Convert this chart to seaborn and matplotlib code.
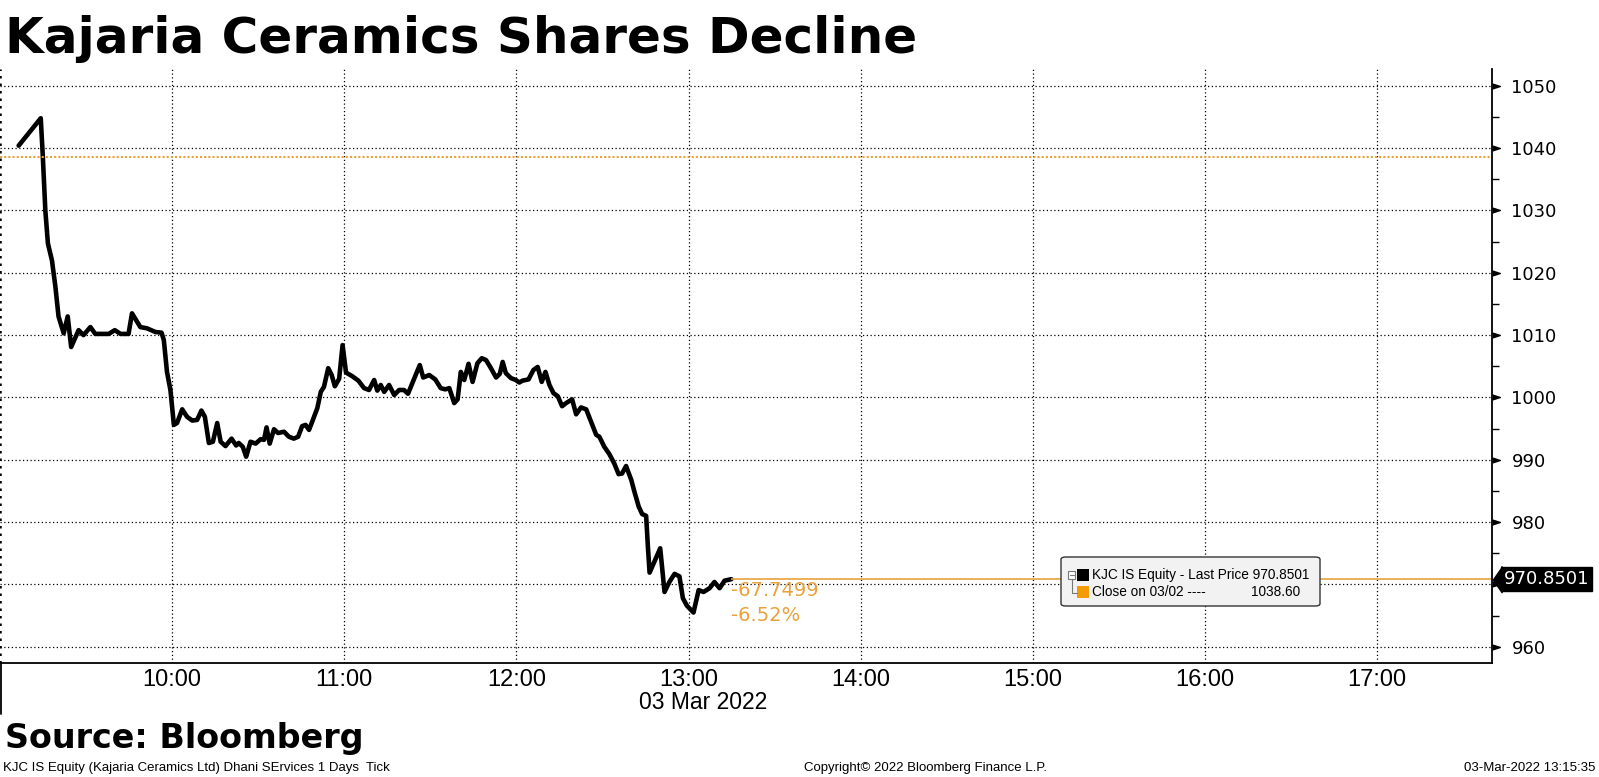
import numpy as np
import pandas as pd
import seaborn as sns
import matplotlib.pyplot as plt
import matplotlib.dates as mdates
import matplotlib.ticker as mticker
from matplotlib.lines import Line2D
from matplotlib.patches import FancyBboxPatch, Rectangle
from matplotlib.transforms import offset_copy

# minutes after 09:00 on 03 Mar 2022
minutes = [6.5, 14.2, 14.9, 15.8, 16.7, 18.1, 19.3, 20.4, 22.2, 23.6, 24.8, 27.4, 29.1,
           31.5, 33.2, 37.9, 40.0, 42.0, 44.8, 46.0, 48.9, 51.2, 54.2, 56.3, 57.1, 58.2,
           59.4, 60.6, 61.7, 63.5, 65.2, 67.0, 68.7, 70.2, 71.4, 72.8, 74.2, 75.7, 76.9,
           78.6, 80.7, 82.3, 83.2, 84.6, 85.8, 87.3, 89.1, 90.8, 92.0, 92.9, 94.0, 95.5,
           96.9, 99.0, 100.7, 102.4, 103.9, 105.3, 106.5, 107.7, 108.8, 110.6, 111.8,
           112.9, 114.4, 115.6, 116.7, 118.2, 119.4, 120.6, 122.8, 124.9, 126.9, 128.6,
           130.4, 131.5, 132.7, 133.9, 135.6, 137.4, 139.1, 140.8, 142.2, 143.7, 146.3,
           147.5, 149.6, 151.7, 153.6, 155.2, 156.6, 158.3, 159.5, 160.6, 161.8, 163.3,
           164.7, 166.4, 167.9, 169.4, 171.1, 172.9, 174.2, 175.2, 176.3, 178.1, 179.8,
           181.0, 182.1, 184.2, 185.9, 187.4, 188.8, 190.1, 191.5, 192.9, 194.4, 195.9,
           197.3, 199.4, 200.8, 202.5, 204.3, 206.0, 207.8, 208.9, 210.6, 212.4, 214.1,
           215.6, 216.8, 218.2, 220.0, 221.1, 222.6, 223.8, 225.2, 225.8, 226.4, 228.1,
           230.1, 231.6, 233.3, 235.1, 236.8, 238.0, 239.4, 241.7, 242.7, 243.5, 245.2,
           247.3, 249.0, 250.8, 252.5, 254.9]
price = [1040.4, 1044.8, 1038.9, 1030.0, 1024.7, 1022.0, 1017.8, 1013.0, 1010.3, 1013.0,
         1008.1, 1010.8, 1010.0, 1011.3, 1010.2, 1010.2, 1010.8, 1010.2, 1010.2, 1013.5,
         1011.3, 1011.1, 1010.5, 1010.4, 1009.2, 1004.1, 1001.2, 995.6, 995.9, 998.1,
         996.9, 996.3, 996.4, 997.9, 996.9, 992.7, 992.9, 995.9, 992.9, 992.2, 993.4,
         992.3, 992.7, 992.1, 990.5, 992.9, 992.6, 993.3, 993.2, 995.2, 992.6, 994.9,
         994.3, 994.5, 993.7, 993.4, 993.7, 995.4, 995.6, 994.8, 996.1, 998.3, 1000.9,
         1001.7, 1004.7, 1003.6, 1001.8, 1003.0, 1008.4, 1004.0, 1003.4, 1002.7, 1001.5,
         1001.2, 1002.8, 1001.1, 1002.0, 1000.9, 1002.0, 1000.4, 1001.2, 1001.2, 1000.6,
         1002.3, 1005.2, 1003.2, 1003.6, 1002.9, 1001.5, 1001.3, 1001.5, 999.1, 999.7,
         1004.1, 1002.8, 1005.4, 1002.5, 1005.5, 1006.3, 1006.0, 1004.7, 1003.2, 1003.8,
         1005.7, 1003.9, 1003.1, 1002.8, 1002.4, 1002.7, 1002.9, 1004.4, 1004.9, 1002.5,
         1004.1, 1002.0, 1000.7, 1000.2, 998.6, 999.1, 999.7, 997.3, 998.4, 998.1, 996.1,
         994.0, 993.7, 992.1, 990.9, 989.4, 987.7, 987.8, 989.0, 986.8, 984.9, 982.5,
         981.3, 981.0, 976.1, 971.9, 973.7, 975.8, 968.8, 970.4, 971.7, 971.3, 967.8,
         966.6, 965.5, 967.5, 969.1, 968.8, 969.4, 970.4, 969.4, 970.6, 970.8501]

prev_close = 1038.60
last_price = 970.8501
change = -67.7499
change_pct = -6.52
y_ticks = [960, 970, 980, 990, 1000, 1010, 1020, 1030, 1040, 1050]
hour_ticks = list(range(10, 18))

day = pd.Timestamp("2022-03-03 09:00")
df = pd.DataFrame({"time": day + pd.to_timedelta(minutes, unit="min"), "price": price})

sns.set_style("white")
plt.rcParams["font.family"] = ["DejaVu Sans"]
for key in ["text.color", "axes.labelcolor", "xtick.color", "ytick.color"]:
    plt.rcParams[key] = "black"
narrow = ["Liberation Sans Narrow", "Liberation Sans", "DejaVu Sans"]
orange = "#E9A23B"

W, H = 1599, 777
fx = lambda px: px / W
fy = lambda py: 1 - py / H

fig = plt.figure(figsize=(W / 100, H / 100), dpi=100)
ax = fig.add_axes([0, fy(663), fx(1492), fy(69) - fy(663)])

sns.lineplot(data=df, x="time", y="price", color="black", lw=3.3, ax=ax)
plt.setp(ax.lines, solid_joinstyle="round", solid_capstyle="round")

ax.set_xlim(day, day + pd.Timedelta(minutes=520))
ax.set_ylim(957.4, 1052.7)
ax.set_xlabel("")
ax.set_ylabel("")

# grid
dot = (0, (1, 2))
ax.xaxis.set_major_locator(mdates.HourLocator(byhour=hour_ticks))
ax.xaxis.set_minor_locator(mdates.MinuteLocator(byminute=[30]))
ax.xaxis.set_major_formatter(mdates.DateFormatter("%H:%M"))
ax.grid(True, which="major", color="black", linestyle=dot, lw=0.9)
ax.axvline(day, color="black", linestyle=dot, lw=1.8)

ax.yaxis.tick_right()
ax.set_yticks(y_ticks, labels=["" if t == 970 else str(t) for t in y_ticks])
ax.yaxis.set_minor_locator(mticker.MultipleLocator(5))
ax.tick_params(axis="y", which="major", length=0, pad=14, labelsize=13)
ax.tick_params(axis="y", which="minor", length=5, width=1, direction="out")
ax.tick_params(axis="x", which="both", direction="in", length=5, width=1, pad=4,
               labelsize=17)
for lab in ax.get_xticklabels():
    lab.set_family(narrow)

for side in ["top", "left"]:
    ax.spines[side].set_visible(False)
for side in ["bottom", "right"]:
    ax.spines[side].set_color("black")
    ax.spines[side].set_linewidth(1.3)

# triangle tick marks on the right axis
tri = offset_copy(ax.get_yaxis_transform(), fig=fig, x=2.7, units="points")
ax.plot([1] * len(y_ticks), y_ticks, ls="none", marker=[(-0.5, -0.32), (0.5, 0), (-0.5, 0.32)],
        ms=5.5, color="black", transform=tri, clip_on=False)

# previous close and last price lines
ax.axhline(prev_close, color=orange, linestyle=(0, (1, 1)), lw=1.5)
last_time = df["time"].iloc[-1]
ax.hlines(last_price, last_time, ax.get_xlim()[1], color=orange, lw=1.2)

ax.annotate(f"{change:.4f}", xy=(last_time, last_price), xytext=(0, -8.5),
            textcoords="offset points", color=orange, fontsize=14, va="center", ha="left")
ax.annotate(f"{change_pct:.2f}%", xy=(last_time, last_price), xytext=(0, -26.5),
            textcoords="offset points", color=orange, fontsize=14, va="center", ha="left")

# last price tag on the axis
tag = offset_copy(ax.get_yaxis_transform(), fig=fig, x=3.6, units="points")
ax.plot([1], [last_price], ls="none", marker=[(-0.35, 0), (0.35, -1), (0.35, 1)], ms=19,
        color="black", transform=tag, clip_on=False)
ax.annotate(f"{last_price:.4f}", xy=(1, last_price), xycoords=ax.get_yaxis_transform(),
            xytext=(8.6, 0), textcoords="offset points", color="white", fontsize=13,
            va="center", ha="left", annotation_clip=False,
            bbox=dict(boxstyle="square,pad=0.15", fc="black", ec="black"))

ax.text(day + pd.Timedelta(minutes=245), -0.067, "03 Mar 2022", transform=ax.get_xaxis_transform(),
        ha="center", va="center", fontsize=16.5, family=narrow)

# legend panel
fig.add_artist(FancyBboxPatch((fx(1061), fy(606)), fx(1320) - fx(1061), fy(557) - fy(606),
                              boxstyle="round,pad=0,rounding_size=0.003", transform=fig.transFigure,
                              fc="#f2f2f2", ec="#333333", lw=1))
fig.add_artist(Rectangle((fx(1068), fy(579)), fx(7), 8 / H, transform=fig.transFigure,
                         fc="white", ec="#777777", lw=0.8))
fig.add_artist(Line2D([fx(1069.5), fx(1073.5)], [fy(575), fy(575)], color="#777777", lw=0.8))
fig.add_artist(Line2D([fx(1071.5), fx(1071.5), fx(1077)], [fy(579), fy(593), fy(593)],
                      color="#777777", lw=0.8))
fig.add_artist(Rectangle((fx(1077), fy(581)), fx(12), 12 / H, transform=fig.transFigure,
                         fc="black", ec="black", lw=0))
fig.add_artist(Rectangle((fx(1077), fy(598)), fx(12), 12 / H, transform=fig.transFigure,
                         fc="#F59B00", ec="#F59B00", lw=0))
fig.text(fx(1092), fy(575), f"KJC IS Equity - Last Price {last_price:.4f}", fontsize=9.8,
         family=narrow, va="center")
fig.text(fx(1092), fy(592), "Close on 03/02 ----", fontsize=9.8, family=narrow, va="center")
fig.text(fx(1300), fy(592), f"{prev_close:.2f}", fontsize=9.8, family=narrow, va="center", ha="right")

# short left divider under the axis
fig.add_artist(Line2D([fx(0.7), fx(0.7)], [fy(663), fy(714)], color="black", lw=1.3))

# titles and footer
fig.text(fx(5), fy(53), "Kajaria Ceramics Shares Decline", fontsize=36, fontweight="bold",
         va="baseline", ha="left")
fig.text(fx(5), fy(748), "Source: Bloomberg", fontsize=24, fontweight="bold",
         va="baseline", ha="left")
fig.text(fx(3), fy(771), "KJC IS Equity (Kajaria Ceramics Ltd) Dhani SErvices 1 Days  Tick",
         fontsize=9.5, family=narrow, va="baseline", ha="left")
fig.text(fx(926), fy(771), "Copyright\u00a9 2022 Bloomberg Finance L.P.", fontsize=9.5,
         family=narrow, va="baseline", ha="center")
fig.text(fx(1595), fy(771), "03-Mar-2022 13:15:35", fontsize=9.5, family=narrow,
         va="baseline", ha="right")

fig.savefig("out.png", dpi=100)
